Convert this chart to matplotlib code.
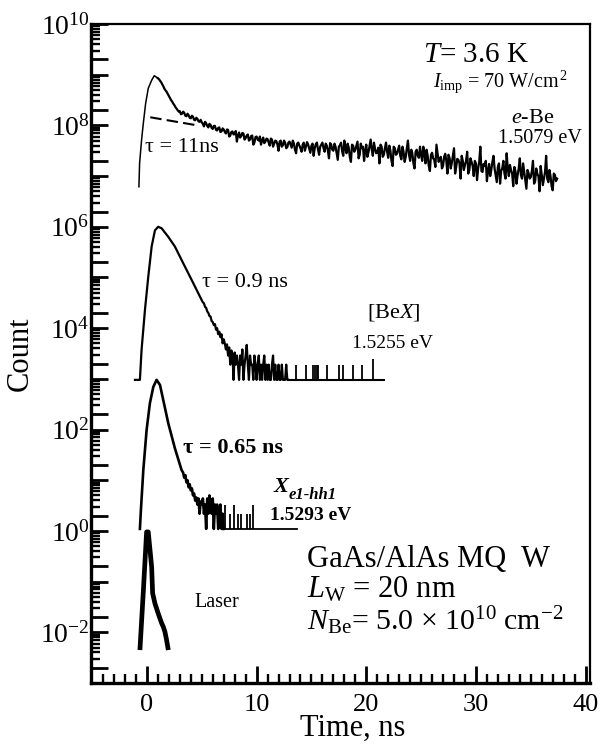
import numpy as np
import matplotlib
matplotlib.use('Agg')
import matplotlib.pyplot as plt
from matplotlib.ticker import FixedLocator, FixedFormatter, NullFormatter

plt.rcParams['font.family'] = ['Liberation Serif', 'DejaVu Serif']
plt.rcParams['mathtext.fontset'] = 'custom'
plt.rcParams['mathtext.rm'] = 'Liberation Serif'
plt.rcParams['mathtext.it'] = 'Liberation Serif:italic'
plt.rcParams['mathtext.bf'] = 'Liberation Serif:bold'

# ---------------- data (log10 of counts) ----------------
# e-Be (top curve)
ebe_rise_t = [-0.73, -0.67, -0.49, -0.33, -0.12, 0.12, 0.43, 0.67]
ebe_rise_log = [6.79, 7.25, 7.71, 8.04, 8.43, 8.73, 8.89, 8.98]
ebe_tail_t0 = 1.0
ebe_tail_dt = 0.2
ebe_tail_log = [
    8.93, 8.88, 8.81, 8.72, 8.66, 8.58, 8.50, 8.43, 8.36, 8.30,
    8.28, 8.23, 8.25, 8.18, 8.20, 8.14, 8.17, 8.10, 8.13, 8.07,
    8.06, 7.98, 8.04, 7.96, 8.01, 7.93, 7.99, 7.90, 7.96, 7.88,
    7.92, 7.84, 7.91, 7.80, 7.88, 7.83, 7.68, 7.86, 7.79, 7.84,
    7.75, 7.82, 7.72, 7.80, 7.66, 7.78, 7.70, 7.62, 7.76, 7.68,
    7.73, 7.60, 7.72, 7.64, 7.69, 7.50, 7.70, 7.61, 7.66, 7.57,
    7.68, 7.56, 7.64, 7.45, 7.66, 7.55, 7.62, 7.50, 7.67, 7.54,
    7.60, 7.40, 7.63, 7.52, 7.58, 7.66, 7.48, 7.60, 7.35, 7.62,
    7.50, 7.58, 7.32, 7.61, 7.49, 7.70, 7.45, 7.56, 7.28, 7.60,
    7.52, 7.68, 7.42, 7.55, 7.30, 7.62, 7.47, 7.72, 7.40, 7.54,
    7.46, 7.25, 7.58, 7.42, 7.66, 7.36, 7.50, 7.20, 7.55, 7.44,
    7.60, 7.33, 7.48, 7.38, 7.70, 7.30, 7.45, 7.15, 7.52, 7.36,
    7.42, 7.58, 7.25, 7.40, 7.10, 7.46, 7.32, 7.62, 7.28, 7.38,
    7.20, 7.44, 7.05, 7.35, 7.26, 7.55, 7.18, 7.32, 6.95, 7.30,
    7.22, 7.48, 7.12, 7.28, 7.00, 7.25, 7.15, 7.58, 7.08, 7.20,
    6.90, 7.24, 7.12, 7.40, 7.02, 7.18, 6.85, 7.15, 7.05, 7.45,
    7.00, 7.12, 6.80, 7.10, 7.02, 7.35, 6.95, 7.08, 6.75, 7.06,
    6.98, 7.30, 6.90, 7.04, 6.70, 7.02, 6.95, 7.40, 6.88, 7.00,
    6.72, 7.02, 6.95,
]
# values between the samples above (t = 1.1, 1.3, ...)
ebe_mid_t0 = 1.1
ebe_mid_log = [
    8.91, 8.85, 8.77, 8.69, 8.62, 8.54, 8.47, 8.40, 8.33, 8.27,
    8.22, 8.27, 8.19, 8.23, 8.15, 8.19, 8.11, 8.15, 8.08, 8.11,
    8.03, 8.07, 7.99, 8.03, 7.95, 7.99, 7.91, 7.95, 7.87, 7.94,
    7.87, 7.92, 7.78, 7.87, 7.82, 7.89, 7.80, 7.76, 7.85, 7.72,
    7.80, 7.70, 7.79, 7.62, 7.77, 7.72, 7.78, 7.70, 7.65, 7.74,
    7.66, 7.74, 7.58, 7.70, 7.62, 7.68, 7.58, 7.70, 7.55, 7.66,
    7.62, 7.70, 7.52, 7.64, 7.60, 7.48, 7.66, 7.58, 7.62, 7.46,
    7.64, 7.55, 7.66, 7.42, 7.62, 7.55, 7.64, 7.50, 7.65, 7.52,
    7.64, 7.45, 7.58, 7.66, 7.40, 7.55, 7.64, 7.38, 7.62, 7.48,
    7.60, 7.35, 7.64, 7.58, 7.50, 7.38, 7.60, 7.52, 7.66, 7.45,
    7.56, 7.62, 7.38, 7.55, 7.48, 7.60, 7.30, 7.58, 7.42, 7.52,
    7.40, 7.58, 7.28, 7.55, 7.42, 7.52, 7.25, 7.48, 7.40, 7.58,
    7.30, 7.45, 7.52, 7.20, 7.42, 7.35, 7.18, 7.45, 7.34, 7.15,
    7.38, 7.30, 7.42, 7.15, 7.40, 7.05, 7.34, 7.25, 7.40, 7.12,
    7.30, 7.05, 7.35, 7.20, 7.30, 6.92, 7.28, 7.10, 7.24, 7.30,
    7.10, 7.00, 7.28, 7.15, 6.88, 7.25, 7.10, 7.30, 6.95, 7.15,
    7.22, 7.05, 7.18, 6.85, 7.15, 7.02, 7.25, 6.90, 7.12, 6.95,
    7.10, 6.85, 7.15, 7.00, 7.20, 6.82, 7.08, 6.95, 7.12, 6.80,
    7.05, 6.90,
]
tau11_t = [0.3, 4.6]
tau11_log = [8.16, 8.00]

# [BeX] (second curve)
bex_t = [-1.09, -0.64, -0.49, -0.18, 0.12, 0.43, 0.73, 1.03, 1.34, 1.95, 2.55, 3.31, 4.08, 4.84]
bex_log = [2.98, 2.98, 3.57, 4.36, 5.01, 5.61, 5.93, 6.00, 5.97, 5.80, 5.61, 5.28, 4.95, 4.62]
bex_noise_t0 = 5.0
bex_noise_dt = 0.1
bex_noise_log = [
    4.55, 4.51, 4.49, 4.42, 4.40, 4.33, 4.30, 4.24, 4.23, 4.14,
    4.12, 4.06, 4.08, 3.97, 4.00, 3.88, 3.93, 3.82, 3.88, 3.70,
    3.78, 3.70, 3.58, 3.68, 3.46, 3.62, 3.28, 3.56, 3.46, 2.98,
    3.52, 3.28, 3.46, 3.28, 2.98, 3.46, 3.28, 3.58, 2.98, 3.28,
    3.46, 3.67, 3.28, 2.98, 3.46, 3.28, 3.28, 2.98, 3.46, 3.28,
    2.98, 3.28, 3.46, 2.98, 3.28, 2.98, 3.28, 3.46, 2.98, 3.28,
    2.98, 3.28, 2.98, 2.98, 3.28, 3.46, 2.98, 3.28, 2.98, 2.98,
    3.28, 2.98, 2.98, 3.28, 2.98, 2.98, 2.98, 3.28, 2.98, 2.98,
]
bex_floor_t = [12.9, 21.6]
bex_floor_log = 2.98
bex_spike_t = [13.6, 14.5, 15.1, 15.3, 15.5, 15.6, 16.4, 17.5, 17.9, 18.8, 19.6, 20.6]
bex_spike_log = [3.28, 3.28, 3.28, 3.28, 3.28, 3.28, 3.28, 3.28, 3.28, 3.28, 3.28, 3.40]

# X e1-hh1 (third curve)
xe_t = [-0.64, -0.55, -0.33, -0.03, 0.27, 0.58, 0.88, 1.19, 1.49, 1.95, 2.55, 3.16]
xe_log = [0.04, 0.41, 1.20, 1.99, 2.52, 2.84, 2.98, 2.88, 2.58, 2.12, 1.63, 1.20]
xe_noise_t0 = 3.3
xe_noise_dt = 0.1
xe_noise_log = [
    1.15, 1.05, 1.10, 0.96, 1.00, 0.86, 0.92, 0.80, 0.84, 0.70,
    0.74, 0.60, 0.66, 0.52, 0.64, 0.34, 0.58, 0.52, 0.64, 0.34,
    0.52, 0.04, 0.64, 0.34, 0.70, 0.52, 0.34, 0.64, 0.04, 0.52,
    0.34, 0.52, 0.04, 0.34, 0.52, 0.04, 0.34, 0.04,
]
xe_floor_t = [7.0, 13.7]
xe_floor_log = 0.04
xe_spike_t = [7.1, 7.6, 7.9, 8.3, 8.6, 9.1, 9.4, 9.7]
xe_spike_log = [0.52, 0.34, 0.52, 0.34, 0.34, 0.34, 0.34, 0.52]

# Laser
laser_t = [-0.64, -0.33, -0.03, 0.12, 0.43, 0.52, 0.73, 1.03, 1.34, 1.49, 1.64, 1.79, 1.95]
laser_log = [-2.35, -1.20, -0.02, -0.02, -0.71, -1.23, -1.43, -1.63, -1.82, -1.89, -1.99, -2.15, -2.35]

# axis ticks
xtick_vals = [0, 10, 20, 30, 40]
xtick_labels = ['0', '10', '20', '30', '40']
ytick_exps = [-2, 0, 2, 4, 6, 8, 10]

# ---------------- figure ----------------
fig = plt.figure(figsize=(6.06, 7.52), dpi=100)
ax = fig.add_axes([91/606, 1-683/752, (590-91)/606, (683-24)/752])

def p(v):
    return 10.0 ** np.asarray(v)

k = 'black'
# e-Be
ebe_tt = ebe_tail_t0 + ebe_tail_dt * np.arange(len(ebe_tail_log))
ebe_mt = ebe_mid_t0 + ebe_tail_dt * np.arange(len(ebe_mid_log))
ax.plot(ebe_rise_t + [ebe_tail_t0], p(ebe_rise_log + [ebe_tail_log[0]]), color=k, lw=1.1)
tail_t = np.concatenate([ebe_tt, ebe_mt])
tail_v = np.concatenate([ebe_tail_log, ebe_mid_log])
order = np.argsort(tail_t)
ax.plot(tail_t[order], p(tail_v[order]), color=k, lw=1.6)
ax.plot(tau11_t, p(tau11_log), color=k, lw=1.5, dashes=(5.5, 2.5))

# BeX
bex_nt = bex_noise_t0 + bex_noise_dt * np.arange(len(bex_noise_log))
ax.plot(list(bex_t) + list(bex_nt), p(list(bex_log) + list(bex_noise_log)), color=k, lw=1.6)
ax.plot(bex_floor_t, p([bex_floor_log, bex_floor_log]), color=k, lw=1.5)
ax.vlines(bex_spike_t, p(bex_floor_log), p(bex_spike_log), color=k, lw=1.3)

# Xe
xe_nt = xe_noise_t0 + xe_noise_dt * np.arange(len(xe_noise_log))
ax.plot(list(xe_t) + list(xe_nt), p(list(xe_log) + list(xe_noise_log)), color=k, lw=1.9)
ax.plot(xe_floor_t, p([xe_floor_log, xe_floor_log]), color=k, lw=1.3)
ax.vlines(xe_spike_t, p(xe_floor_log), p(xe_spike_log), color=k, lw=1.3)

# Laser
ax.plot(laser_t, p(laser_log), color=k, lw=3.4, solid_capstyle='butt')

# axes
ax.set_xlim(-5.1, 40.4)
ax.set_yscale('log')
ax.set_ylim(1e-3, 1e10)

yv, yl = [], []
for n in range(-3, 11):
    yv.append(10.0 ** n)
    yl.append(r'$10^{%d}$' % n if n in ytick_exps else '')
    if n < 10:
        yv.append(2 * 10.0 ** n)
        yl.append('')
ax.yaxis.set_major_locator(FixedLocator(yv))
ax.yaxis.set_major_formatter(FixedFormatter(yl))
ax.yaxis.set_minor_locator(FixedLocator([m * 10.0 ** n for n in range(-3, 10) for m in range(3, 10)]))
ax.yaxis.set_minor_formatter(NullFormatter())

ax.xaxis.set_major_locator(FixedLocator(xtick_vals))
ax.xaxis.set_major_formatter(FixedFormatter(xtick_labels))
ax.xaxis.set_minor_locator(FixedLocator([v for v in range(-4, 41) if v not in xtick_vals]))

ax.tick_params(axis='both', which='both', direction='in', top=False, right=False, colors='black')
ax.tick_params(axis='both', which='major', length=12.5, width=2.0)
ax.tick_params(axis='y', which='major', labelsize=20, pad=1)
ax.tick_params(axis='x', which='major', labelsize=19, pad=8)
ax.tick_params(axis='both', which='minor', length=6.5, width=1.7)

for s in ['left', 'bottom']:
    ax.spines[s].set_linewidth(2.4)
for s in ['top', 'right']:
    ax.spines[s].set_linewidth(1.6)

ax.set_ylabel('Count', fontsize=22)
ax.yaxis.set_label_coords(-0.112, 0.5)
ax.set_xlabel('Time, ns', fontsize=22)
ax.xaxis.set_label_coords(0.525, -0.047)

# annotations
T = ax.transAxes
def txt(x, y, s, fs, **kw):
    ax.text(x, y, s, transform=T, fontsize=fs, va='baseline', ha='left', **kw)

txt(0.665, 0.942, r'$T$= 3.6 K', 21)
txt(0.685, 0.904, r'$I_{\mathrm{imp}}$ = 70 W/cm$^{\,2}$', 14.5)
txt(0.842, 0.850, r'$e$-Be', 16)
txt(0.816, 0.819, '1.5079 eV', 14.5)
txt(0.108, 0.806, 'τ = 11ns', 16)
txt(0.222, 0.601, 'τ = 0.9 ns', 16)
txt(0.553, 0.555, r'[Be$X$]', 16)
txt(0.523, 0.508, '1.5255 eV', 14)
txt(0.184, 0.349, 'τ = 0.65 ns', 16, fontweight='bold')
ax.text(0.365, 0.290, 'X', transform=T, fontsize=16, va='baseline', ha='left',
        fontweight='bold', style='italic')
ax.text(0.396, 0.279, 'e1-hh1', transform=T, fontsize=12, va='baseline', ha='left',
        fontweight='bold', style='italic')
txt(0.359, 0.247, '1.5293 eV', 14, fontweight='bold')
txt(0.208, 0.115, 'Laser', 14.5)
txt(0.433, 0.176, 'GaAs/AlAs MQ  W', 22)
txt(0.433, 0.1305, r'$L_{\mathrm{W}}$ = 20 nm', 22)
txt(0.433, 0.080, r'$N_{\mathrm{Be}}$= 5.0 × 10$^{10}$ cm$^{-2}$', 21.5)

fig.savefig('out.png', dpi=100)
